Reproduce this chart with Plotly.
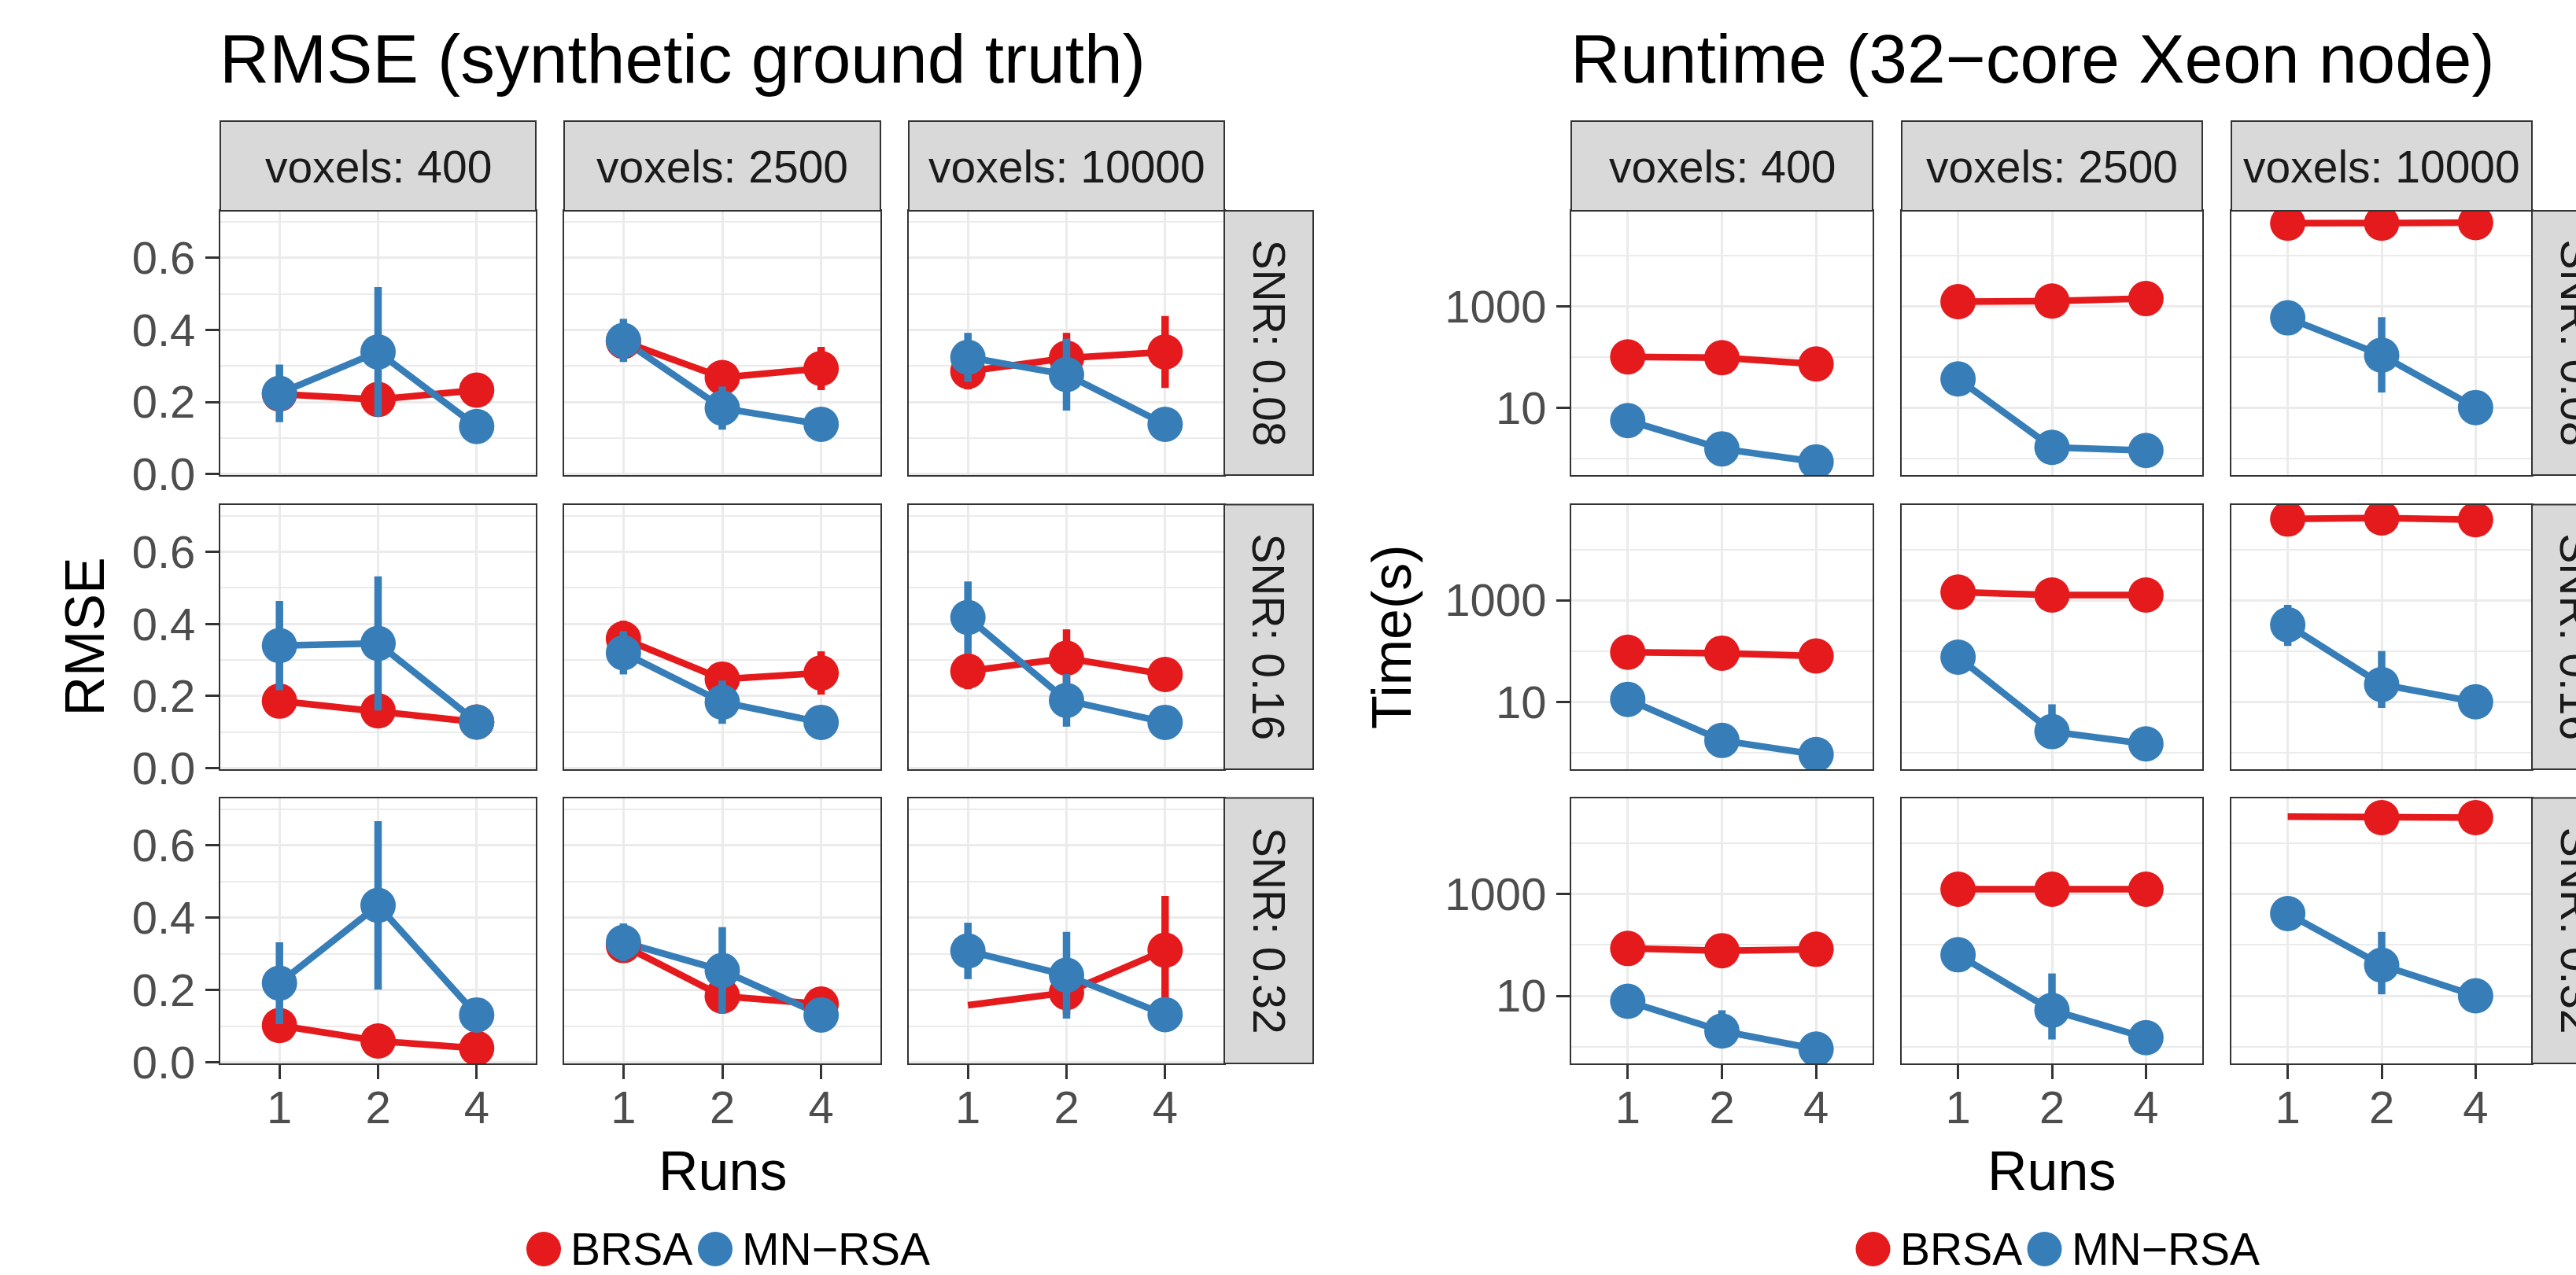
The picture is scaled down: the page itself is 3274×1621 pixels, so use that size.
import plotly.graph_objects as go

# ---------------- data ----------------
runs = ["1", "2", "4"]
voxels = ["400", "2500", "10000"]
snrs = ["0.08", "0.16", "0.32"]
methods = ["BRSA", "MN\u2212RSA"]
colors = ["#E41A1C", "#377EB8"]

# RMSE values [snr][voxels][runs]
rmse_brsa = [
    [[0.222, 0.207, 0.233], [0.368, 0.268, 0.293], [0.285, 0.322, 0.339]],
    [[0.186, 0.159, 0.128], [0.359, 0.247, 0.264], [0.269, 0.305, 0.260]],
    [[0.102, 0.059, 0.039], [0.323, 0.183, 0.161], [0.158, 0.193, 0.310]],
]
rmse_brsa_err = [
    [[0.02, 0.02, 0.02], [0.02, 0.02, 0.06], [0.05, 0.07, 0.10]],
    [[0.02, 0.02, 0.02], [0.05, 0.02, 0.06], [0.05, 0.08, 0.02]],
    [[0.02, 0.02, 0.02], [0.02, 0.02, 0.02], [None, 0.06, 0.15]],
]
rmse_mn = [
    [[0.224, 0.339, 0.132], [0.371, 0.183, 0.138], [0.324, 0.276, 0.138]],
    [[0.340, 0.346, 0.128], [0.320, 0.183, 0.127], [0.418, 0.188, 0.127]],
    [[0.219, 0.434, 0.131], [0.332, 0.254, 0.131], [0.308, 0.241, 0.132]],
]
rmse_mn_err = [
    [[0.08, 0.18, 0.02], [0.06, 0.06, 0.02], [0.068, 0.10, 0.02]],
    [[0.124, 0.186, 0.02], [0.06, 0.06, 0.02], [0.10, 0.073, 0.02]],
    [[0.113, 0.233, 0.02], [0.052, 0.12, 0.02], [0.078, 0.12, 0.02]],
]

# Runtime (s) [snr][voxels][runs]
time_brsa = [
    [[101, 97, 73], [1236, 1271, 1422], [43500, 43500, 44700]],
    [[95, 91, 80], [1443, 1268, 1268], [39800, 41700, 38500]],
    [[85, 77, 82], [1236, 1236, 1236], [32900, 31500, 31500]],
]
time_brsa_err_plus = [
    [[0, 0, 0], [0, 0, 0], [0, 0, 0]],
    [[0, 0, 0], [0, 0, 0], [0, 0, 0]],
    [[0, 0, 0], [0, 0, 0], [None, 0, 0]],
]
time_brsa_err_minus = [
    [[0, 0, 0], [0, 0, 0], [0, 0, 0]],
    [[0, 0, 0], [0, 0, 0], [0, 0, 0]],
    [[0, 0, 0], [0, 0, 0], [None, 0, 0]],
]
time_mn = [
    [[5.6, 1.55, 0.86], [37, 1.66, 1.44], [593, 109, 10.1]],
    [[11.2, 1.74, 0.92], [76, 2.6, 1.49], [329, 22, 10]],
    [[7.8, 2.04, 0.90], [64, 5.2, 1.51], [412, 40, 10]],
]
time_mn_err_plus = [
    [[0, 0, 0], [0, 0, 0], [0, 501, 0]],
    [[0, 0, 0], [0, 6.35, 0], [484, 78, 0]],
    [[0, 3.16, 0], [0, 22.3, 0], [0, 140, 0]],
]
time_mn_err_minus = [
    [[0, 0, 0], [0, 0, 0], [0, 89, 0]],
    [[0, 0, 0], [0, 1.3, 0], [203, 14.4, 0]],
    [[0, 1.0, 0], [0, 3.81, 0], [0, 29.3, 0]],
]

rmse_ticks = [0.0, 0.2, 0.4, 0.6]
time_ticks = [10, 1000]
time_minor = [1, 100, 10000]

# ---------------- layout geometry (pixels) ----------------
W, H = 3274, 1621
FONT = "Liberation Sans, Arial, Helvetica, sans-serif"
left_cols = [(280, 681), (717, 1119), (1155, 1556)]
right_cols = [(1997, 2380), (2417, 2799), (2836, 3218)]
rows = [(268, 604), (641.5, 978), (1014.5, 1352)]
STRIP_TOP = 154
STRIP_W = 113


def px(x):
    return x / W


def py(y):
    return 1 - y / H


fig = go.Figure()
layout = dict(
    width=W, height=H,
    margin=dict(l=0, r=0, t=0, b=0, pad=0, autoexpand=False),
    paper_bgcolor="white", plot_bgcolor="white", showlegend=False,
    font=dict(family=FONT),
)
shapes = []
annotations = []

GRID = "#EBEBEB"
BORDER = "#333333"
TICKCOL = "#4D4D4D"
TICKSIZE = 58

panels = [
    ("rmse", left_cols, [rmse_brsa, rmse_mn], [rmse_brsa_err, rmse_mn_err], None),
    ("time", right_cols, [time_brsa, time_mn],
     [time_brsa_err_plus, time_mn_err_plus], [time_brsa_err_minus, time_mn_err_minus]),
]

k = 0
for kind, cols, series, errp, errm in panels:
    for r, (y0, y1) in enumerate(rows):
        for c, (x0, x1) in enumerate(cols):
            k += 1
            xa = "xaxis" if k == 1 else f"xaxis{k}"
            ya = "yaxis" if k == 1 else f"yaxis{k}"
            xr = "x" if k == 1 else f"x{k}"
            yr = "y" if k == 1 else f"y{k}"
            bottom = r == len(rows) - 1
            left = c == 0
            layout[xa] = dict(
                domain=[px(x0), px(x1)], anchor=yr, type="category",
                categoryorder="array", categoryarray=runs, range=[-0.6, 2.6],
                showgrid=True, gridcolor=GRID, gridwidth=2.7, zeroline=False,
                showline=True, mirror=True, linecolor=BORDER, linewidth=2,
                ticks="outside" if bottom else "", ticklen=18, tickwidth=2.5,
                tickcolor=BORDER, showticklabels=bottom, ticklabelstandoff=-14,
                tickfont=dict(size=TICKSIZE, color=TICKCOL, family=FONT),
                fixedrange=True, automargin=False,
            )
            ydict = dict(
                domain=[py(y1), py(y0)], anchor=xr,
                showgrid=True, gridcolor=GRID, gridwidth=2.7, zeroline=False,
                showline=True, mirror=True, linecolor=BORDER, linewidth=2,
                ticks="outside" if left else "", ticklen=17, tickwidth=2.5,
                tickcolor=BORDER, showticklabels=left, ticklabelstandoff=1,
                tickfont=dict(size=TICKSIZE, color=TICKCOL, family=FONT),
                fixedrange=True, automargin=False,
            )
            if kind == "rmse":
                ydict.update(range=[-0.003, 0.731], tickmode="array",
                             tickvals=rmse_ticks,
                             ticktext=[f"{v:.1f}" for v in rmse_ticks],
                             minor=dict(dtick=0.1, tick0=0, showgrid=True,
                                        gridcolor=GRID, gridwidth=1.5, ticklen=0))
            else:
                ydict.update(type="log", range=[-0.327, 4.884], tickmode="array",
                             tickvals=time_ticks,
                             ticktext=[str(v) for v in time_ticks],
                             minor=dict(tickmode="array", tickvals=time_minor,
                                        showgrid=True, gridcolor=GRID,
                                        gridwidth=1.5, ticklen=0))
            layout[ya] = ydict

            # lines first (both methods), then point ranges
            for m in range(len(methods)):
                fig.add_trace(go.Scatter(
                    x=runs, y=series[m][r][c], mode="lines", xaxis=xr, yaxis=yr,
                    line=dict(color=colors[m], width=8.5), hoverinfo="skip"))
            for m in range(len(methods)):
                vals = series[m][r][c]
                ep = errp[m][r][c]
                em = ep if errm is None else errm[m][r][c]
                ys = [None if e is None else v for v, e in zip(vals, ep)]
                fig.add_trace(go.Scatter(
                    x=runs, y=ys, mode="markers", xaxis=xr, yaxis=yr,
                    name=methods[m],
                    marker=dict(color=colors[m], size=45, line=dict(width=0)),
                    error_y=dict(type="data", symmetric=False,
                                 array=[0 if e is None else e for e in ep],
                                 arrayminus=[0 if e is None else e for e in em],
                                 color=colors[m], thickness=9.5, width=0),
                ))

            # facet strips
            if r == 0:
                shapes.append(dict(type="rect", xref="paper", yref="paper",
                                   x0=px(x0), x1=px(x1), y0=py(y0), y1=py(STRIP_TOP),
                                   fillcolor="#D9D9D9", line=dict(color=BORDER, width=2)))
                annotations.append(dict(
                    text=f"voxels: {voxels[c]}", xref="paper", yref="paper",
                    x=px((x0 + x1) / 2), y=py(212),
                    xanchor="center", yanchor="middle", showarrow=False,
                    font=dict(size=57, color="#1A1A1A", family=FONT)))
            if c == len(cols) - 1:
                shapes.append(dict(type="rect", xref="paper", yref="paper",
                                   x0=px(x1), x1=px(x1 + STRIP_W), y0=py(y1), y1=py(y0),
                                   fillcolor="#D9D9D9", line=dict(color=BORDER, width=2)))
                annotations.append(dict(
                    text=f"SNR: {snrs[r]}", xref="paper", yref="paper",
                    x=px(x1 + STRIP_W / 2), y=py((y0 + y1) / 2), textangle=90,
                    xanchor="center", yanchor="middle", showarrow=False,
                    font=dict(size=57, color="#1A1A1A", family=FONT)))

# titles / axis titles / legends
titles = [
    ("RMSE (synthetic ground truth)", left_cols, "RMSE", 107.5),
    ("Runtime (32\u2212core Xeon node)", right_cols, "Time(s)", 1769),
]
for title, cols, ytitle, ytx in titles:
    annotations.append(dict(
        text=title, xref="paper", yref="paper", x=px(cols[0][0] - 3), y=py(74.5),
        xanchor="left", yanchor="middle", showarrow=False,
        font=dict(size=87.5, color="black", family=FONT)))
    annotations.append(dict(
        text=ytitle, xref="paper", yref="paper", x=px(ytx),
        y=py((rows[0][0] + rows[-1][1]) / 2), textangle=-90,
        xanchor="center", yanchor="middle", showarrow=False,
        font=dict(size=70, color="black", family=FONT)))
    cx = (cols[0][0] + cols[-1][1]) / 2
    annotations.append(dict(
        text="Runs", xref="paper", yref="paper", x=px(cx), y=py(1489),
        xanchor="center", yanchor="middle", showarrow=False,
        font=dict(size=70, color="black", family=FONT)))
    lx = cx - 249
    for m in range(len(methods)):
        shapes.append(dict(type="circle", xref="paper", yref="paper",
                           x0=px(lx), x1=px(lx + 44), y0=py(1610), y1=py(1566),
                           fillcolor=colors[m], line=dict(width=0)))
        annotations.append(dict(
            text=methods[m], xref="paper", yref="paper", x=px(lx + 54), y=py(1588),
            xanchor="left", yanchor="middle", showarrow=False,
            font=dict(size=57, color="black", family=FONT)))
        lx = lx + 218

layout["shapes"] = shapes
layout["annotations"] = annotations
fig.update_layout(**layout)
fig.write_html("out.html", post_script="document.body.style.margin = '0';",
               config={"displayModeBar": False})
